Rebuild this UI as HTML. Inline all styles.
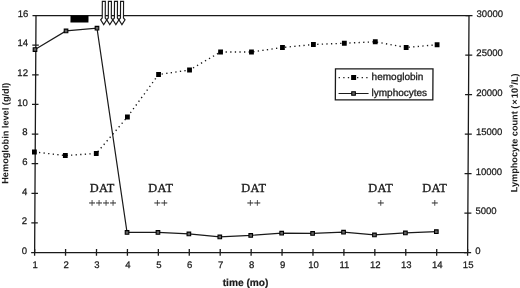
<!DOCTYPE html><html><head><meta charset="utf-8"><title>Hemoglobin and lymphocytes</title><style>html,body{margin:0;padding:0;background:#fff;overflow:hidden}svg{display:block}</style></head><body>
<svg width="520" height="288" viewBox="0 0 520 288">
<rect width="520" height="288" fill="#fff"/>
<g transform="translate(0.0893 0) skewX(-0.33)">
<g stroke="#1a1a1a" stroke-width="1.3" fill="none" stroke-linecap="butt">
<path d="M32.5 15.6H469.0M36.0 15.6V252.6M32.5 252.6H469.0M469.0 15.6V252.6"/>
<path d="M32.5 222.97H39.0"/>
<path d="M32.5 193.35H39.0"/>
<path d="M32.5 163.72H39.0"/>
<path d="M32.5 134.10H39.0"/>
<path d="M32.5 104.47H39.0"/>
<path d="M32.5 74.85H39.0"/>
<path d="M32.5 45.22H39.0"/>
<path d="M465.5 252.60H472.5"/>
<path d="M465.5 213.10H472.5"/>
<path d="M465.5 173.60H472.5"/>
<path d="M465.5 134.10H472.5"/>
<path d="M465.5 94.60H472.5"/>
<path d="M465.5 55.10H472.5"/>
<path d="M465.5 15.60H472.5"/>
<path d="M36.00 249.1V255.79999999999998"/>
<path d="M66.93 249.1V255.79999999999998"/>
<path d="M97.86 249.1V255.79999999999998"/>
<path d="M128.79 249.1V255.79999999999998"/>
<path d="M159.71 249.1V255.79999999999998"/>
<path d="M190.64 249.1V255.79999999999998"/>
<path d="M221.57 249.1V255.79999999999998"/>
<path d="M252.50 249.1V255.79999999999998"/>
<path d="M283.43 249.1V255.79999999999998"/>
<path d="M314.36 249.1V255.79999999999998"/>
<path d="M345.29 249.1V255.79999999999998"/>
<path d="M376.21 249.1V255.79999999999998"/>
<path d="M407.14 249.1V255.79999999999998"/>
<path d="M438.07 249.1V255.79999999999998"/>
<path d="M469.00 249.1V255.79999999999998"/>
</g>
<g font-family="Liberation Sans, Arial, Helvetica, sans-serif" font-size="9.5" fill="#1a1a1a" text-anchor="end" stroke="#1a1a1a" stroke-width="0.25">
<text x="28.3" y="253.80">0</text>
<text x="28.3" y="224.17">2</text>
<text x="28.3" y="194.55">4</text>
<text x="28.3" y="164.92">6</text>
<text x="28.3" y="135.30">8</text>
<text x="28.3" y="105.67">10</text>
<text x="28.3" y="76.05">12</text>
<text x="28.3" y="46.42">14</text>
<text x="28.3" y="16.80">16</text>
</g>
<g font-family="Liberation Sans, Arial, Helvetica, sans-serif" font-size="9.5" fill="#1a1a1a" text-anchor="start" stroke="#1a1a1a" stroke-width="0.25">
<text x="476.6" y="253.80">0</text>
<text x="476.6" y="214.30">5000</text>
<text x="476.6" y="174.80">10000</text>
<text x="476.6" y="135.30">15000</text>
<text x="476.6" y="95.80">20000</text>
<text x="476.6" y="56.30">25000</text>
<text x="476.6" y="16.80">30000</text>
</g>
<g font-family="Liberation Sans, Arial, Helvetica, sans-serif" font-size="9.5" fill="#1a1a1a" text-anchor="middle" stroke="#1a1a1a" stroke-width="0.25">
<text x="36.60" y="268">1</text>
<text x="67.53" y="268">2</text>
<text x="98.46" y="268">3</text>
<text x="129.39" y="268">4</text>
<text x="160.31" y="268">5</text>
<text x="191.24" y="268">6</text>
<text x="222.17" y="268">7</text>
<text x="253.10" y="268">8</text>
<text x="284.03" y="268">9</text>
<text x="314.96" y="268">10</text>
<text x="345.89" y="268">11</text>
<text x="376.81" y="268">12</text>
<text x="407.74" y="268">13</text>
<text x="438.67" y="268">14</text>
<text x="469.60" y="268">15</text>
</g>
<text x="247.12" y="285.8" font-family="Liberation Sans, Arial, Helvetica, sans-serif" font-size="10.15" font-weight="bold" fill="#1a1a1a" stroke="#1a1a1a" stroke-width="0.2" text-anchor="middle">time (mo)</text>
<text transform="translate(9.18 133.25) rotate(-90)" font-family="Liberation Sans, Arial, Helvetica, sans-serif" font-size="9.2" font-weight="bold" fill="#1a1a1a" text-anchor="middle">Hemoglobin level (g/dl)</text>
<text transform="translate(518.18 132.9) rotate(-90)" font-family="Liberation Sans, Arial, Helvetica, sans-serif" font-size="9.17" font-weight="bold" fill="#1a1a1a" text-anchor="middle">Lymphocyte count (<tspan dx="0.9">×</tspan><tspan dx="1.2">10</tspan><tspan dx="0.3" dy="-4.6" font-size="5.5">9</tspan><tspan dy="4.6">/L)</tspan></text>
<rect x="70.5" y="15.5" width="18" height="7" fill="#000"/>
<path d="M102.25 1.4H105.25V18L106.80 19.8L103.75 24.6L100.70 19.8L102.25 18Z" fill="#fff" stroke="#1a1a1a" stroke-width="1.15" stroke-linejoin="miter"/>
<path d="M108.33 1.4H111.33V18L112.88 19.8L109.83 24.6L106.78 19.8L108.33 18Z" fill="#fff" stroke="#1a1a1a" stroke-width="1.15" stroke-linejoin="miter"/>
<path d="M114.41 1.4H117.41V18L118.96 19.8L115.91 24.6L112.86 19.8L114.41 18Z" fill="#fff" stroke="#1a1a1a" stroke-width="1.15" stroke-linejoin="miter"/>
<path d="M120.49 1.4H123.49V18L125.04 19.8L121.99 24.6L118.94 19.8L120.49 18Z" fill="#fff" stroke="#1a1a1a" stroke-width="1.15" stroke-linejoin="miter"/>
<polyline points="35.20,152 66.13,155.5 97.06,153.5 127.99,117 158.91,74.5 189.84,70 220.77,52 251.70,52 282.63,47.5 313.56,44.5 344.49,43.25 375.41,41.75 406.34,47.5 437.27,44.75" fill="none" stroke="#1a1a1a" stroke-width="1.35" stroke-dasharray="1.3 3.3"/>
<rect x="32.80" y="149.6" width="4.8" height="4.8" fill="#000"/>
<rect x="63.73" y="153.1" width="4.8" height="4.8" fill="#000"/>
<rect x="94.66" y="151.1" width="4.8" height="4.8" fill="#000"/>
<rect x="125.59" y="114.6" width="4.8" height="4.8" fill="#000"/>
<rect x="156.51" y="72.1" width="4.8" height="4.8" fill="#000"/>
<rect x="187.44" y="67.6" width="4.8" height="4.8" fill="#000"/>
<rect x="218.37" y="49.6" width="4.8" height="4.8" fill="#000"/>
<rect x="249.30" y="49.6" width="4.8" height="4.8" fill="#000"/>
<rect x="280.23" y="45.1" width="4.8" height="4.8" fill="#000"/>
<rect x="311.16" y="42.1" width="4.8" height="4.8" fill="#000"/>
<rect x="342.09" y="40.85" width="4.8" height="4.8" fill="#000"/>
<rect x="373.01" y="39.35" width="4.8" height="4.8" fill="#000"/>
<rect x="403.94" y="45.1" width="4.8" height="4.8" fill="#000"/>
<rect x="434.87" y="42.35" width="4.8" height="4.8" fill="#000"/>
<polyline points="35.20,49.6 66.13,30.9 97.06,28.2 128.29,232.4 159.21,232.4 190.14,233.9 221.07,236.9 252.00,235.4 282.93,233.15 313.86,233.4 344.79,232.15 375.71,234.9 406.64,232.9 437.57,231.65" fill="none" stroke="#1a1a1a" stroke-width="1.2"/>
<rect x="33.40" y="47.80" width="3.6" height="3.6" fill="#666" stroke="#000" stroke-width="1.1"/>
<rect x="64.33" y="29.10" width="3.6" height="3.6" fill="#666" stroke="#000" stroke-width="1.1"/>
<rect x="95.26" y="26.40" width="3.6" height="3.6" fill="#666" stroke="#000" stroke-width="1.1"/>
<rect x="126.49" y="230.60" width="3.6" height="3.6" fill="#666" stroke="#000" stroke-width="1.1"/>
<rect x="157.41" y="230.60" width="3.6" height="3.6" fill="#666" stroke="#000" stroke-width="1.1"/>
<rect x="188.34" y="232.10" width="3.6" height="3.6" fill="#666" stroke="#000" stroke-width="1.1"/>
<rect x="219.27" y="235.10" width="3.6" height="3.6" fill="#666" stroke="#000" stroke-width="1.1"/>
<rect x="250.20" y="233.60" width="3.6" height="3.6" fill="#666" stroke="#000" stroke-width="1.1"/>
<rect x="281.13" y="231.35" width="3.6" height="3.6" fill="#666" stroke="#000" stroke-width="1.1"/>
<rect x="312.06" y="231.60" width="3.6" height="3.6" fill="#666" stroke="#000" stroke-width="1.1"/>
<rect x="342.99" y="230.35" width="3.6" height="3.6" fill="#666" stroke="#000" stroke-width="1.1"/>
<rect x="373.91" y="233.10" width="3.6" height="3.6" fill="#666" stroke="#000" stroke-width="1.1"/>
<rect x="404.84" y="231.10" width="3.6" height="3.6" fill="#666" stroke="#000" stroke-width="1.1"/>
<rect x="435.77" y="229.85" width="3.6" height="3.6" fill="#666" stroke="#000" stroke-width="1.1"/>
<rect x="335.8" y="68.8" width="97.5" height="31" fill="#fff" stroke="#1a1a1a" stroke-width="1.3"/>
<path d="M339 77.6H369" stroke="#1a1a1a" stroke-width="1.35" stroke-dasharray="1.3 3.3" fill="none"/>
<rect x="351.5" y="75" width="5" height="5" fill="#000"/>
<path d="M339 93.5H369" stroke="#1a1a1a" stroke-width="1.2" fill="none"/>
<rect x="352.2" y="91.7" width="3.6" height="3.6" fill="#666" stroke="#000" stroke-width="1.1"/>
<g font-family="Liberation Sans, Arial, Helvetica, sans-serif" font-size="10" fill="#1a1a1a" stroke="#1a1a1a" stroke-width="0.3">
<text x="372" y="80.5">hemoglobin</text>
<text x="372" y="95.6">lymphocytes</text>
</g>
<g font-family="Liberation Serif, Times New Roman, serif" fill="#1a1a1a" text-anchor="middle">
<text x="103.18" y="192.1" font-size="12.3" letter-spacing="0.35" stroke="#1a1a1a" stroke-width="0.35">DAT</text>
<text x="103.69" y="207" font-size="12.5" stroke="#1a1a1a" stroke-width="0.1">++++</text>
<text x="161.88" y="192.1" font-size="12.3" letter-spacing="0.35" stroke="#1a1a1a" stroke-width="0.35">DAT</text>
<text x="161.99" y="207" font-size="12.5" stroke="#1a1a1a" stroke-width="0.1">++</text>
<text x="254.78" y="192.1" font-size="12.3" letter-spacing="0.35" stroke="#1a1a1a" stroke-width="0.35">DAT</text>
<text x="254.89" y="207" font-size="12.5" stroke="#1a1a1a" stroke-width="0.1">++</text>
<text x="381.68" y="192.1" font-size="12.3" letter-spacing="0.35" stroke="#1a1a1a" stroke-width="0.35">DAT</text>
<text x="381.79" y="207" font-size="12.5" stroke="#1a1a1a" stroke-width="0.1">+</text>
<text x="435.68" y="192.1" font-size="12.3" letter-spacing="0.35" stroke="#1a1a1a" stroke-width="0.35">DAT</text>
<text x="435.79" y="207" font-size="12.5" stroke="#1a1a1a" stroke-width="0.1">+</text>
</g>
</g>
</svg></body></html>
